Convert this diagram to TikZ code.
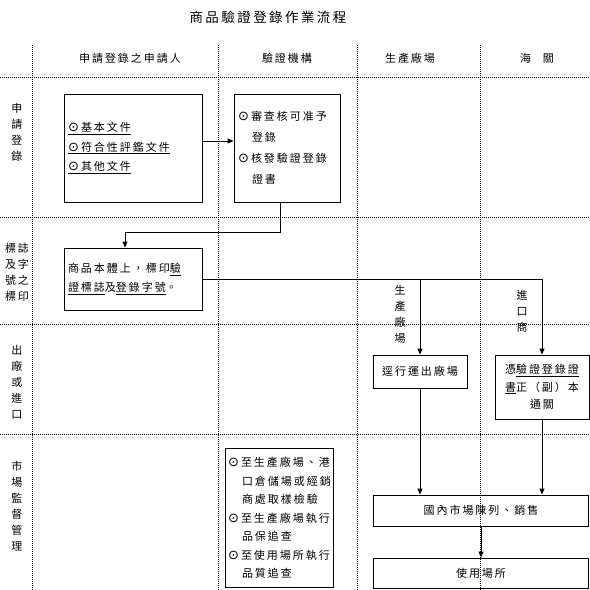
\documentclass[tikz,border=0pt]{standalone}
\usepackage{fontspec}
\usetikzlibrary{positioning,arrows.meta}
\setmainfont{Noto Sans CJK TC}[LetterSpace=18]
\newfontfamily\symfont{DejaVu Sans}
\definecolor{ink}{HTML}{000000}
\newcommand\dotmark{\makebox[13pt][l]{\fontsize{13}{13}\symfont ⊙}}
\newcommand\indentmark{\hspace*{14pt}}

\begin{document}
\begin{tikzpicture}[x=1pt,y=-1pt,box/.style={draw=ink,line width=0.9pt,inner sep=4pt,font=\fontsize{11}{19.5}\selectfont},flow/.style={-{Triangle[length=6pt,width=5pt]},draw=ink,line width=0.9pt},lanes/.style={draw=ink,line width=0.9pt,dash pattern=on 1pt off 1pt},head/.style={font=\fontsize{11}{14}\selectfont},side/.style={font=\fontsize{11}{16}\selectfont,align=center,inner sep=0pt}]
\fill[white] (0,0) rectangle (590,590);
\useasboundingbox (0,0) rectangle (590,590);
% swimlanes
\foreach \gx in {32,218,357,480} \draw[lanes] (\gx,45) -- (\gx,590);
\foreach \gy in {77,217,324,434} \draw[lanes] (0,\gy) -- (590,\gy);
\node[font=\fontsize{13.5}{16}\selectfont] (title) at (268,17) {商品驗證登錄作業流程};
\node[head] (applicant) at (130,58) {申請登錄之申請人};
\node[head] (agency) at (287,58) {驗證機構};
\node[head] (factory) at (410,58) {生產廠場};
\node[head] (customs) at (537,58) {海\hspace{12pt}關};
\node[side] (rowapply) at (17,132) {申\\請\\登\\錄};
\node[side] (rowmark) at (17,272) {標誌\\及字\\號之\\標印};
\node[side] (rowexit) at (17,382) {出\\廠\\或\\進\\口};
\node[side] (rowmarket) at (17,506) {市\\場\\監\\督\\管\\理};
% boxes
\node[box,minimum width=138,minimum height=108,text width=130,align=left] (docs) at (133,148) {\underline{\dotmark 基本文件}\\\underline{\dotmark 符合性評鑑文件}\\\underline{\dotmark 其他文件}};
\node[box,minimum width=106,minimum height=108,text width=98,align=left,font=\fontsize{11}{21}\selectfont] (review) at (287,148) {\dotmark 審查核可准予\\\indentmark 登錄\\\dotmark 核發驗證登錄\\\indentmark 證書};
\node[box,minimum width=138,minimum height=62,text width=130,align=left,font=\fontsize{11}{19}\selectfont] (label) at (133,279) {商品本體上，標印\underline{驗}\\\underline{證標誌}及\underline{登錄字號}。};
\node[box,minimum width=94,minimum height=33] (ship) at (420,371.5) {逕行運出廠場};
\node[box,minimum width=94,minimum height=64,align=center,font=\fontsize{11}{17.5}\selectfont] (clear) at (542,387) {憑\underline{驗證登錄證}\\\underline{書}正（副）本\\通關};
\node[box,minimum width=108,minimum height=139,text width=102,inner sep=3pt,align=left,font=\fontsize{11}{18.5}\selectfont] (audit) at (279,518) {\dotmark 至生產廠場、港\\\indentmark 口倉儲場或經銷\\\indentmark 商處取樣檢驗\\\dotmark 至生產廠場執行\\\indentmark 品保追查\\\dotmark 至使用場所執行\\\indentmark 品質追查};
\node[box,minimum width=215,minimum height=31] (market) at (481,510.5) {國內市場陳列、銷售};
\node[box,minimum width=215,minimum height=30] (usage) at (481,573) {使用場所};
\node[side] (byfactory) at (400,314) {生\\產\\廠\\場};
\node[side] (byimporter) at (522,311) {進\\口\\商};
% flows
\draw[flow] ([yshift=7pt]docs.east) -- ([yshift=7pt]review.west);
\draw[flow] ([xshift=-7pt]review.south) -- ++(0,30) -| ([xshift=-8pt]label.north);
\draw[flow] (label.east) -| (clear.north);
\coordinate (split) at (ship.north |- label.east);
\draw[flow] (split) -- (ship.north);
\draw[flow] (ship.south) -- (ship.south |- market.north);
\draw[flow] (clear.south) -- (clear.south |- market.north);
\draw[flow] (market.south) -- (usage.north);
\end{tikzpicture}
\end{document}
